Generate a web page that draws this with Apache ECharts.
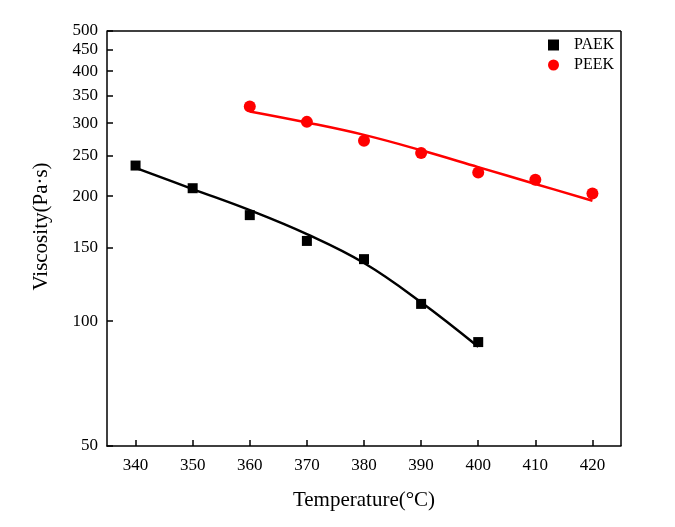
<!DOCTYPE html>
<html>
<head>
<meta charset="utf-8">
<script src="https://cdn.jsdelivr.net/npm/echarts@6/dist/echarts.min.js"></script>
<style>html,body{margin:0;padding:0;background:#fff}#c{width:675px;height:527px}</style>
</head>
<body>
<div id="c"></div>
<script>
var paekTemps = [340, 350, 360, 370, 380, 390, 400];
var paekVisc  = [237, 209, 180, 156, 141, 110, 89];
var paekFit   = [234, 208, 185, 162, 138, 111, 86.7];

var peekTemps = [360, 370, 380, 390, 400, 410, 420];
var peekVisc  = [329, 302, 272, 254, 228, 219, 203];
var peekFit   = [320, 301, 281, 258, 235, 214, 195];

var yTicks = [50, 100, 150, 200, 250, 300, 350, 400, 450, 500];
var xTicks = [340, 350, 360, 370, 380, 390, 400, 410, 420];

function pairs(xs, ys) { return xs.map(function (x, i) { return [x, ys[i]]; }); }

var font = '"Liberation Serif", "Times New Roman", serif';
var chart = echarts.init(document.getElementById('c'));
chart.setOption({
  animation: false,
  backgroundColor: '#fff',
  grid: { left: 107, right: 54, top: 31, bottom: 81 },
  legend: {
    orient: 'vertical', left: 543, top: 32, itemWidth: 11, itemHeight: 11, itemGap: 4,
    data: [{ name: 'PAEK', icon: 'rect' }, { name: 'PEEK', icon: 'circle' }],
    textStyle: { fontFamily: font, fontSize: 16, color: '#000', padding: [0, 0, 0, 10] }
  },
  xAxis: {
    type: 'value', min: 335, max: 425,
    name: 'Temperature(°C)', nameLocation: 'middle', nameGap: 44,
    nameTextStyle: { fontFamily: font, fontSize: 21, color: '#000' },
    axisLine: { show: true, lineStyle: { color: '#000', width: 1.5 } },
    axisTick: { show: true, inside: true, length: 6, lineStyle: { color: '#000', width: 1.5 }, customValues: xTicks },
    axisLabel: { fontFamily: font, fontSize: 17, color: '#000', margin: 11, customValues: xTicks },
    splitLine: { show: false }
  },
  yAxis: {
    type: 'log', logBase: 10, min: 50, max: 500,
    name: 'Viscosity(Pa·s)', nameLocation: 'middle', nameGap: 55,
    nameTextStyle: { fontFamily: font, fontSize: 21, color: '#000', padding: [0, 0, 0, 24] },
    axisLine: { show: true, lineStyle: { color: '#000', width: 1.5 } },
    axisTick: { show: true, inside: true, length: 6, lineStyle: { color: '#000', width: 1.5 }, customValues: yTicks },
    axisLabel: { fontFamily: font, fontSize: 17, color: '#000', margin: 9, customValues: yTicks,
      formatter: function (v) { return String(Math.round(v)); } },
    splitLine: { show: false }
  },
  series: [
    { name: 'PAEK fit', type: 'line', data: pairs(paekTemps, paekFit), smooth: 0.4, showSymbol: false,
      lineStyle: { color: '#000', width: 2.5 }, z: 2 },
    { name: 'PEEK fit', type: 'line', data: pairs(peekTemps, peekFit), smooth: 0.4, showSymbol: false,
      lineStyle: { color: '#ff0000', width: 2.5 }, z: 2 },
    { name: 'PAEK', type: 'scatter', data: pairs(paekTemps, paekVisc), symbol: 'rect', symbolSize: 10,
      itemStyle: { color: '#000', opacity: 1 }, z: 3 },
    { name: 'PEEK', type: 'scatter', data: pairs(peekTemps, peekVisc), symbol: 'circle', symbolSize: 12,
      itemStyle: { color: '#ff0000', opacity: 1 }, z: 3 }
  ],
  graphic: [
    { type: 'line', shape: { x1: 107, y1: 31, x2: 621, y2: 31 }, style: { stroke: '#000', lineWidth: 1.5 } },
    { type: 'line', shape: { x1: 621, y1: 31, x2: 621, y2: 446 }, style: { stroke: '#000', lineWidth: 1.5 } }
  ]
});
</script>
</body>
</html>
